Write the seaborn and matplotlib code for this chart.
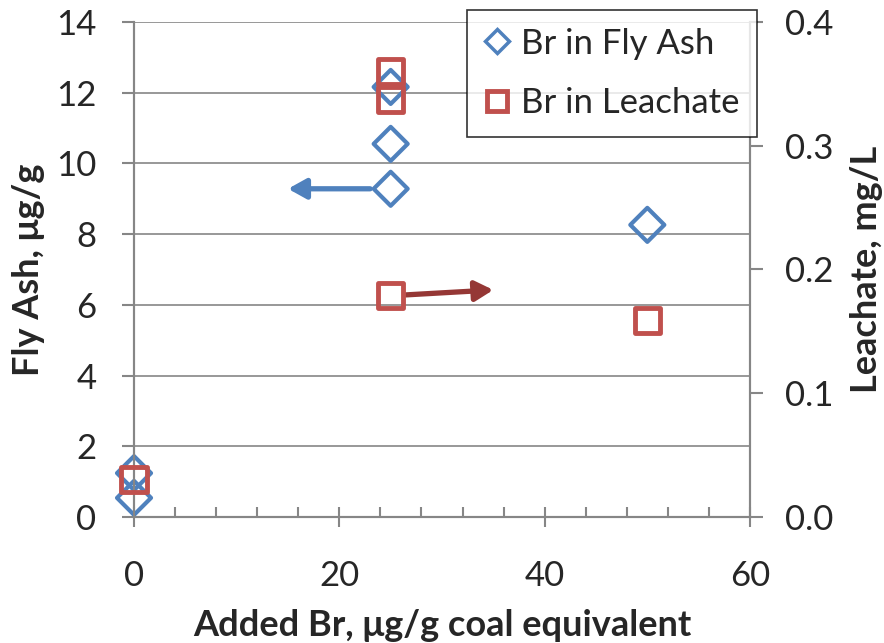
import numpy as np
import pandas as pd
import matplotlib
matplotlib.use("Agg")
import matplotlib.pyplot as plt
import seaborn as sns
from matplotlib.ticker import MultipleLocator, FormatStrFormatter
from matplotlib.lines import Line2D

# Data
ash_added = [0, 0, 25, 25, 25, 50]
ash_br = [1.24, 0.54, 12.16, 10.55, 9.28, 8.26]

leach_added = [0, 25, 25, 25, 50]
leach_br = [0.030, 0.360, 0.337, 0.179, 0.159]

# arrows (x start, x end, y start, y end) in the left-axis units
blue_arrow = [23.0, 15.0, 9.28, 9.28]
red_arrow = [26.5, 35.0, 6.28, 6.42]

blue = "#4F81BD"
red = "#C0504D"
dark_red = "#953735"
grey = "#868686"

sns.set_theme(style="white")
plt.rcParams['font.family'] = ['Lato', 'DejaVu Sans']

fig = plt.figure(figsize=(8.84, 6.43), dpi=100)
ax = fig.add_axes([0.1516, 0.196, 0.6968, 0.770])
ax2 = ax.twinx()

ash = pd.DataFrame({"added": ash_added, "br": ash_br})
leach = pd.DataFrame({"added": leach_added, "br": leach_br})

sns.scatterplot(data=ash, x="added", y="br", ax=ax, marker="D", s=300,
                facecolor="none", edgecolor=blue, linewidth=3, zorder=3, clip_on=False)
sns.scatterplot(data=leach, x="added", y="br", ax=ax2, marker="s", s=330,
                facecolor="none", edgecolor=red, linewidth=3.5, zorder=3, clip_on=False)

ax.set_xlim(0, 60)
ax.set_ylim(0, 14)
ax2.set_ylim(0, 0.4)

ax.xaxis.set_major_locator(MultipleLocator(20))
ax.xaxis.set_minor_locator(MultipleLocator(4))
ax.yaxis.set_major_locator(MultipleLocator(2))
ax2.yaxis.set_major_locator(MultipleLocator(0.1))
ax2.yaxis.set_major_formatter(FormatStrFormatter("%.1f"))

ax.grid(axis="y", color=grey, linewidth=1.2)
ax.set_axisbelow(True)
for a in (ax, ax2):
    for side, sp in a.spines.items():
        sp.set_color(grey)
        sp.set_linewidth(1.5)
    a.spines["top"].set_visible(False)

ax.tick_params(axis="x", which="major", direction="inout", length=14, width=1.5,
               color=grey, labelsize=25, pad=24, bottom=True)
ax.tick_params(axis="x", which="minor", direction="in", length=7, width=1.5,
               color=grey, bottom=True)
ax.tick_params(axis="y", direction="out", length=9, width=1.5, color=grey,
               labelsize=25, pad=18, left=True)
ax2.tick_params(axis="y", direction="out", length=9, width=1.5, color=grey,
                labelsize=25, pad=16, right=True)

ax.set_xlabel("Added Br, μg/g coal equivalent", fontsize=26, fontweight="bold", labelpad=12)
ax.set_ylabel("Fly Ash, μg/g", fontsize=26, fontweight="bold", labelpad=8)
ax2.set_ylabel("Leachate, mg/L", fontsize=26, fontweight="bold", labelpad=12)

ax.annotate("", xy=(blue_arrow[1], blue_arrow[3]), xytext=(blue_arrow[0], blue_arrow[2]),
            arrowprops=dict(arrowstyle="-|>,head_length=0.9,head_width=0.5",
                            color=blue, lw=3.8, shrinkA=0, shrinkB=0), zorder=4)
ax.annotate("", xy=(red_arrow[1], red_arrow[3]), xytext=(red_arrow[0], red_arrow[2]),
            arrowprops=dict(arrowstyle="-|>,head_length=0.9,head_width=0.5",
                            color=dark_red, lw=3.8, shrinkA=0, shrinkB=0), zorder=4)

handles = [
    Line2D([], [], marker="D", linestyle="none", markersize=12, markerfacecolor="none",
           markeredgecolor=blue, markeredgewidth=2.5, label="Br in Fly Ash"),
    Line2D([], [], marker="s", linestyle="none", markersize=15, markerfacecolor="none",
           markeredgecolor=red, markeredgewidth=3.5, label="Br in Leachate"),
]
leg = fig.legend(handles=handles, loc="upper right", bbox_to_anchor=(0.856, 0.984),
                 fontsize=25, frameon=True, fancybox=False, edgecolor="black",
                 handlelength=0.7, handletextpad=0.35, labelspacing=0.8, borderpad=0.5,
                 borderaxespad=0)
leg.get_frame().set_linewidth(1.2)

fig.savefig("out.png", dpi=100)
